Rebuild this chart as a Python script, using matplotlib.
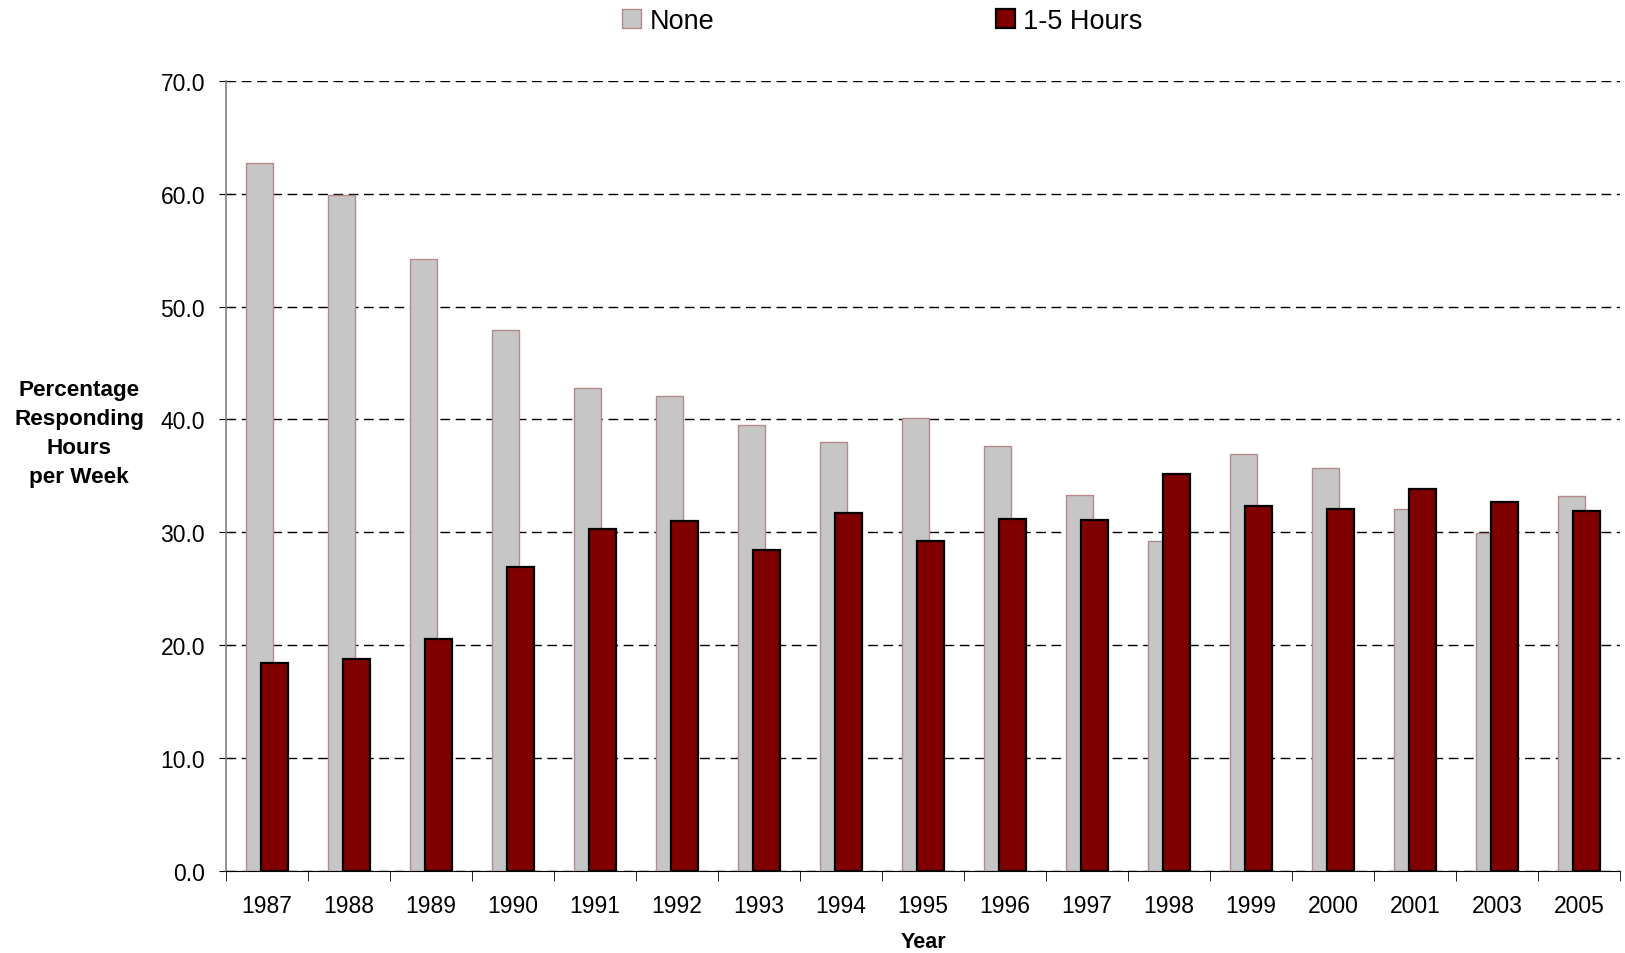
import numpy as np
import matplotlib.pyplot as plt
from matplotlib.patches import Patch

plt.rcParams['font.family'] = ['Liberation Sans', 'DejaVu Sans']

years = ['1987', '1988', '1989', '1990', '1991', '1992', '1993', '1994', '1995',
         '1996', '1997', '1998', '1999', '2000', '2001', '2003', '2005']
none_pct = [62.7, 59.9, 54.2, 47.9, 42.8, 42.1, 39.5, 38.0, 40.1,
            37.6, 33.3, 29.2, 36.9, 35.7, 32.1, 29.9, 33.2]
hours_1_5 = [18.4, 18.8, 20.5, 26.9, 30.3, 31.0, 28.4, 31.7, 29.2,
             31.2, 31.1, 35.2, 32.3, 32.1, 33.8, 32.7, 31.9]

fig = plt.figure(figsize=(16.25, 9.54), dpi=100)
ax = fig.add_axes([0.139, 0.0864, 0.858, 0.8276])

x = np.arange(len(years))
ax.bar(x - 0.095, none_pct, width=0.33, color='#c6c6c6', edgecolor='#b58a8a',
       linewidth=1, zorder=2)
ax.bar(x + 0.095, hours_1_5, width=0.33, color='#800000', edgecolor='black',
       linewidth=1.6, zorder=3)

ax.set_xlim(-0.5, len(years) - 0.5)
ax.set_ylim(0, 70)
ax.set_yticks(np.arange(0, 71, 10))
ax.set_yticklabels(['%.1f' % v for v in np.arange(0, 71, 10)], fontsize=16.5)
ax.yaxis.grid(True, color='black', linestyle=(0, (7, 4)), linewidth=1, zorder=1)
ax.set_axisbelow(True)

ax.set_xticks(x)
ax.set_xticklabels(years, fontsize=16.5)
ax.set_xticks(np.arange(-0.5, len(years), 1), minor=True)
ax.tick_params(axis='x', which='major', length=0, pad=17)
ax.tick_params(axis='x', which='minor', length=7, direction='out', color='black')
ax.tick_params(axis='y', length=10, direction='inout', pad=10, color='black')

ax.spines['top'].set_visible(False)
ax.spines['right'].set_visible(False)
ax.spines['left'].set_color('#808080')
ax.spines['left'].set_linewidth(1.2)
ax.spines['bottom'].set_color('black')

ax.set_xlabel('Year', fontsize=15.5, fontweight='bold', labelpad=10)
fig.text(0.0486, 0.545, 'Percentage\nResponding\nHours\nper Week', ha='center',
         va='center', fontsize=16.2, fontweight='bold', linespacing=1.5)

handles = [Patch(facecolor='#c6c6c6', edgecolor='#b58a8a', linewidth=1),
           Patch(facecolor='#800000', edgecolor='black', linewidth=1.6)]
fig.legend(handles, ['None', '1-5 Hours'], loc='upper center', ncol=2,
           bbox_to_anchor=(0.543, 1.016), frameon=False, fontsize=19.5,
           handlelength=0.7, handleheight=0.7, handletextpad=0.3,
           columnspacing=10.4)

fig.savefig('out.png', dpi=100)
